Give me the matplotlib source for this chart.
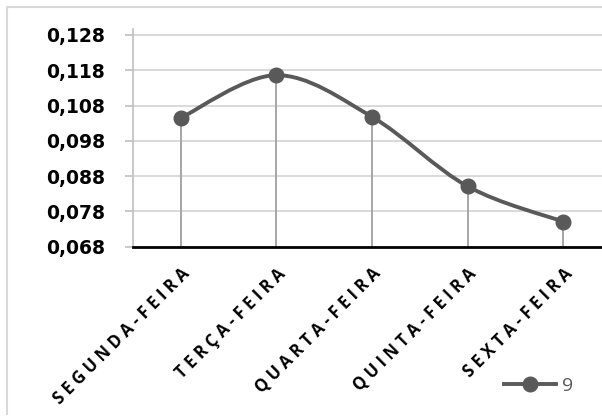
import numpy as np
import matplotlib
matplotlib.use('Agg')
import matplotlib.pyplot as plt
from matplotlib.path import Path
from matplotlib.patches import PathPatch
from matplotlib.lines import Line2D

# ============================================================================
# Data
# ============================================================================
dias = ['SEGUNDA-FEIRA', 'TERÇA-FEIRA', 'QUARTA-FEIRA', 'QUINTA-FEIRA', 'SEXTA-FEIRA']
valores = [0.1045, 0.1166, 0.1048, 0.0851, 0.0751]
serie = '9'
y_ticks = [0.068, 0.078, 0.088, 0.098, 0.108, 0.118, 0.128]

LINE_COLOR = '#595959'
DROP_COLOR = '#a6a6a6'
GRID_COLOR = '#d9d9d9'


def smooth_path(xs, ys):
    """Bezier path through the points (Catmull-Rom style control points)."""
    pts = np.column_stack([xs, ys]).astype(float)
    pad = np.vstack([pts[0], pts, pts[-1]])
    verts = [tuple(pts[0])]
    codes = [Path.MOVETO]
    for i in range(1, len(pad) - 2):
        p0, p1, p2, p3 = pad[i - 1], pad[i], pad[i + 1], pad[i + 2]
        c1 = p1 + (p2 - p0) / 6.0
        c2 = p2 - (p3 - p1) / 6.0
        verts += [tuple(c1), tuple(c2), tuple(p2)]
        codes += [Path.CURVE4] * 3
    return Path(verts, codes)


def spaced(s):
    return ' '.join(s)


W, H = 602, 417
fig = plt.figure(figsize=(W / 100, H / 100), dpi=100)

# chart border (left and top edges visible)
fig.add_artist(Line2D([7 / W, 7 / W], [1 - 414 / H, 1 - 7 / H], color=GRID_COLOR, lw=1.5))
fig.add_artist(Line2D([7 / W, 1.0], [1 - 7 / H, 1 - 7 / H], color=GRID_COLOR, lw=1.5))

x0, x1 = 133 / W, (133 + 5 * 95.6) / W
y0, y1 = 1 - 246.7 / H, 1 - 29.3 / H
ax = fig.add_axes([x0, y0, x1 - x0, y1 - y0])

x = np.arange(len(dias))
ax.set_xlim(-0.5, len(dias) - 0.5)
ax.set_ylim(0.068, 0.1296)

# gridlines
for t in y_ticks[1:]:
    ax.axhline(t, color=GRID_COLOR, lw=1.4, zorder=0)

# drop lines
ax.vlines(x, 0.068, valores, color=DROP_COLOR, lw=1.4, zorder=1)

# smoothed line + markers
ax.add_patch(PathPatch(smooth_path(x, valores), facecolor='none',
                       edgecolor=LINE_COLOR, lw=2.8, zorder=2, capstyle='round'))
ax.plot(x, valores, linestyle='none', marker='o', markersize=10.5,
        color=LINE_COLOR, zorder=3)

for s in ['top', 'right']:
    ax.spines[s].set_visible(False)
ax.spines['left'].set_color('#bfbfbf')
ax.spines['left'].set_linewidth(1.2)
ax.spines['bottom'].set_color('black')
ax.spines['bottom'].set_linewidth(2.0)
ax.spines['bottom'].set_zorder(4)

ax.set_yticks(y_ticks)
ax.set_yticklabels([f'{t:.3f}'.replace('.', ',') for t in y_ticks],
                   fontsize=13.5, fontweight='bold', family='DejaVu Sans')
ax.tick_params(axis='y', length=6, width=1.2, color='#bfbfbf', pad=14)

ax.set_xticks(x)
ax.set_xticklabels([spaced(d) for d in dias], rotation=45, ha='right',
                   rotation_mode='anchor', fontsize=12, fontweight='bold',
                   family='Open Sans')
ax.tick_params(axis='x', length=0, pad=13)

# legend
handle = Line2D([], [], color=LINE_COLOR, lw=2.8, marker='o', markersize=10.5)
fig.legend([handle], [serie], loc='center left', bbox_to_anchor=(494 / W, 1 - 386 / H),
           frameon=False, handlelength=2.7, handletextpad=0.3, borderpad=0,
           prop={'family': 'Open Sans', 'size': 14}, labelcolor=LINE_COLOR)

fig.savefig('out.png', dpi=100)
